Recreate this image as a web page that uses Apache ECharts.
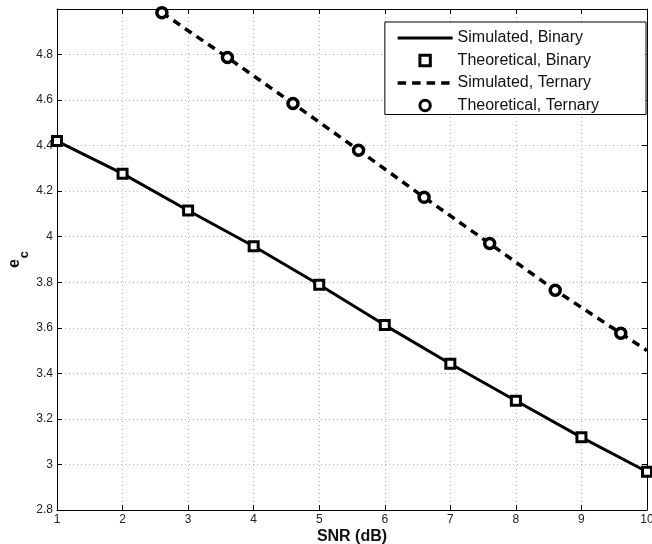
<!DOCTYPE html>
<html>
<head>
<meta charset="utf-8">
<script src="https://cdn.jsdelivr.net/npm/echarts@6/dist/echarts.min.js"></script>
<style>
html, body { margin: 0; padding: 0; background: #fff; }
#main { width: 652px; height: 544px; }
</style>
</head>
<body>
<div id="main"></div>
<script>
// data
let snrBinary = [1, 2, 3, 4, 5, 6, 7, 8, 9, 10];
let simBinary = [4.42, 4.277, 4.115, 3.958, 3.789, 3.612, 3.442, 3.28, 3.119, 2.968];
let theoBinary = [4.42, 4.277, 4.115, 3.958, 3.789, 3.612, 3.442, 3.28, 3.119, 2.968];

let snrTernary = [2.6, 3.6, 4.6, 5.6, 6.6, 7.6, 8.6, 9.6, 10];
let simTernary = [4.984, 4.787, 4.585, 4.38, 4.173, 3.97, 3.765, 3.576, 3.50];
let snrTheoTernary = [2.6, 3.6, 4.6, 5.6, 6.6, 7.6, 8.6, 9.6];
let theoTernary = [4.984, 4.787, 4.585, 4.38, 4.173, 3.97, 3.765, 3.576];

let legendNames = ['Simulated, Binary', 'Theoretical, Binary', 'Simulated, Ternary', 'Theoretical, Ternary'];

function pairs(xs, ys) {
	let out = [];
	for (let i = 0; i < xs.length; i++) {
		out.push([xs[i], ys[i]]);
	}
	return out;
}

let myChart = echarts.init(document.getElementById('main'), null, { renderer: 'canvas' });

let font = 'Liberation Sans';
let gridLine = { show: true, lineStyle: { color: '#b0b0b0', type: [1, 3], width: 1 } };
let labelFont = { color: '#222', fontSize: 12, fontFamily: font };
let noSymbol = { color: 'rgba(0,0,0,0)', borderWidth: 0, borderColor: 'rgba(0,0,0,0)' };
let markerStyle = { color: '#fff', borderColor: '#000', borderWidth: 3, opacity: 1 };
let hiddenLine = { width: 0, opacity: 0 };

let chartOption = {
	animation: false,
	backgroundColor: '#fff',
	grid: { left: 57, right: 5, top: 9, bottom: 34, outerBoundsMode: 'none', containLabel: false },
	legend: {
		data: [
			{ name: legendNames[0], itemStyle: noSymbol, lineStyle: { color: '#000', width: 3, type: 'solid' } },
			{ name: legendNames[1], itemStyle: markerStyle, lineStyle: hiddenLine },
			{ name: legendNames[2], itemStyle: noSymbol, lineStyle: { color: '#000', width: 3.5, type: [8.5, 6] } },
			{ name: legendNames[3], itemStyle: markerStyle, lineStyle: hiddenLine }
		],
		orient: 'vertical',
		right: 6,
		top: 22,
		itemWidth: 55,
		itemHeight: 13,
		itemGap: 6.5,
		itemTextGap: 6,
		padding: [8, 47, 1, 11],
		backgroundColor: '#fff',
		borderColor: '#000',
		borderWidth: 1,
		borderRadius: 0,
		textStyle: { color: '#111', fontSize: 16, fontFamily: font }
	},
	xAxis: [
		{
			type: 'value', min: 1, max: 10, interval: 1,
			name: 'SNR (dB)', nameLocation: 'middle', nameGap: 19, nameMoveOverlap: false,
			nameTextStyle: { fontWeight: 'bold', fontSize: 16, color: '#111', fontFamily: font },
			axisLine: { show: true, onZero: false, lineStyle: { color: '#000', width: 1 } },
			axisTick: { show: true, inside: true, length: 5, lineStyle: { color: '#000' } },
			axisLabel: Object.assign({ margin: 4 }, labelFont),
			splitLine: gridLine
		},
		{
			type: 'value', min: 1, max: 10, interval: 1, position: 'top',
			axisLine: { show: true, onZero: false, lineStyle: { color: '#000', width: 1 } },
			axisTick: { show: true, inside: true, length: 5, lineStyle: { color: '#000' } },
			axisLabel: { show: false },
			splitLine: { show: false }
		}
	],
	yAxis: [
		{
			type: 'value', min: 2.8, max: 5, interval: 0.2,
			name: '{e|e}{sub|c}', nameLocation: 'middle', nameGap: 26, nameRotate: 90, nameMoveOverlap: false,
			nameTextStyle: {
				fontWeight: 'bold', fontSize: 16, color: '#111', fontFamily: font,
				rich: {
					e: { fontWeight: 'bold', fontSize: 16, color: '#111', fontFamily: font, lineHeight: 16, verticalAlign: 'top' },
					sub: { fontWeight: 'bold', fontSize: 13, color: '#111', fontFamily: font, lineHeight: 24, verticalAlign: 'bottom', padding: [0, 0, 0, 1] }
				}
			},
			axisLine: { show: true, onZero: false, lineStyle: { color: '#000', width: 1 } },
			axisTick: { show: true, inside: true, length: 5, lineStyle: { color: '#000' } },
			axisLabel: Object.assign({
				margin: 4,
				formatter: function (v) {
					if (Math.abs(v - 5) < 1e-6) return '';
					return String(Math.round(v * 10) / 10);
				}
			}, labelFont),
			splitLine: gridLine
		},
		{
			type: 'value', min: 2.8, max: 5, interval: 0.2, position: 'right',
			axisLine: { show: true, onZero: false, lineStyle: { color: '#000', width: 1 } },
			axisTick: { show: true, inside: true, length: 5, lineStyle: { color: '#000' } },
			axisLabel: { show: false },
			splitLine: { show: false }
		}
	],
	series: [
		{
			name: legendNames[0],
			type: 'line',
			data: pairs(snrBinary, simBinary),
			symbol: 'none',
			lineStyle: { color: '#000', width: 3 },
			itemStyle: { color: '#000' },
			z: 2
		},
		{
			name: legendNames[1],
			type: 'line',
			data: pairs(snrBinary, theoBinary),
			symbol: 'rect',
			symbolSize: 9,
			showAllSymbol: true,
			lineStyle: hiddenLine,
			itemStyle: { color: '#fff', borderColor: '#000', borderWidth: 3, opacity: 1 },
			z: 4
		},
		{
			name: legendNames[2],
			type: 'line',
			data: pairs(snrTernary, simTernary),
			symbol: 'none',
			lineStyle: { color: '#000', width: 3.5, type: [8, 6] },
			itemStyle: { color: '#000' },
			z: 2
		},
		{
			name: legendNames[3],
			type: 'line',
			data: pairs(snrTheoTernary, theoTernary),
			symbol: 'circle',
			symbolSize: 10,
			showAllSymbol: true,
			lineStyle: hiddenLine,
			itemStyle: { color: '#fff', borderColor: '#000', borderWidth: 3.5, opacity: 1 },
			z: 4
		}
	]
};

myChart.setOption(chartOption);
</script>
</body>
</html>
